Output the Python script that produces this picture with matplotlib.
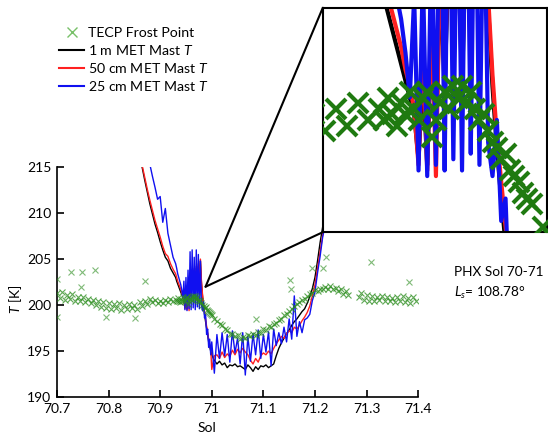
import matplotlib
matplotlib.use("Agg")
import matplotlib.pyplot as plt
from matplotlib.lines import Line2D
from matplotlib.patches import ConnectionPatch
from matplotlib.ticker import FuncFormatter

FONT = "Lato"
plt.rcParams['font.family'] = [FONT, 'DejaVu Sans']
plt.rcParams['mathtext.fontset'] = 'custom'
plt.rcParams['mathtext.rm'] = FONT
plt.rcParams['mathtext.it'] = FONT + ':italic'

# ---------------- data ----------------
met_sol = [70.860, 70.865, 70.870, 70.875, 70.880, 70.885, 70.890, 70.895, 70.900, 70.905,
           70.910, 70.915, 70.920, 70.925,
           70.930, 70.932, 70.934, 70.936, 70.938, 70.940, 70.942, 70.944, 70.946, 70.948,
           70.950, 70.952, 70.954, 70.956, 70.958, 70.960, 70.962, 70.964, 70.966, 70.968,
           70.970, 70.972, 70.974, 70.976, 70.978, 70.980, 70.982, 70.984, 70.986, 70.988,
           70.990, 70.992, 70.994, 70.996, 70.998,
           71.000, 71.005, 71.010, 71.015, 71.020, 71.025, 71.030, 71.035, 71.040, 71.045,
           71.050, 71.055, 71.060, 71.065, 71.070, 71.075, 71.080, 71.085, 71.090, 71.095,
           71.100, 71.105, 71.110, 71.115, 71.120, 71.125, 71.130, 71.135, 71.140, 71.145,
           71.150, 71.155, 71.160, 71.165, 71.170, 71.175, 71.180, 71.185, 71.190, 71.195,
           71.200, 71.205, 71.210, 71.215, 71.220, 71.225, 71.230]

t_1m = [216.5, 215.0, 213.6, 212.3, 211.0, 209.9, 208.8, 207.9, 206.9, 206.0,
        205.2, 204.8, 204.0, 203.5,
        203.0, 202.6, 202.3, 202.0, 201.7, 201.4, 201.1, 200.8, 200.5, 199.7,
        201.2, 199.6, 202.0, 200.0, 203.0, 201.0, 203.5, 202.0, 203.8, 201.0,
        204.0, 202.6, 204.2, 203.0, 204.8, 202.4, 201.0, 199.9, 199.0, 198.2,
        197.5, 196.8, 196.0, 195.5, 195.0,
        194.6, 194.0, 193.6, 193.9, 193.5, 193.7, 193.2, 193.5, 193.4, 193.6,
        193.3, 193.4, 193.2, 193.0, 193.5, 193.2, 192.8, 193.3, 193.0, 193.4,
        193.3, 193.5, 193.2, 193.4, 193.6, 194.5, 195.3, 195.9, 196.4, 196.9,
        197.3, 197.8, 198.2, 198.5, 198.9, 199.3, 199.6, 200.2, 200.9, 201.8,
        203.0, 204.8, 206.8, 208.5, 210.5, 212.5, 214.0]

t_50cm = [216.8, 215.2, 213.9, 212.6, 211.4, 210.3, 209.2, 208.3, 207.4, 206.4,
          205.6, 205.3, 204.5, 203.9,
          203.4, 203.0, 202.6, 202.3, 202.0, 201.7, 201.3, 201.0, 200.6, 199.6,
          201.8, 199.5, 202.4, 199.4, 203.4, 201.2, 203.8, 202.3, 204.0, 201.2,
          204.2, 202.8, 204.5, 203.2, 205.0, 202.6, 201.2, 200.1, 199.3, 198.5,
          197.7, 197.0, 196.3, 195.7, 195.2,
          193.0, 194.5, 194.6, 194.2, 194.9, 194.3, 194.7, 194.4, 195.1, 194.6,
          195.2, 194.8, 195.3, 194.9, 194.6, 194.0, 193.6, 194.2, 193.8, 194.5,
          194.8, 194.6, 195.0, 194.7, 195.3, 195.8, 196.2, 196.6, 196.4, 196.9,
          197.2, 197.0, 197.6, 197.4, 197.8, 198.3, 198.7, 199.2, 199.9, 201.0,
          202.2, 204.0, 205.8, 207.6, 209.6, 211.5, 213.2]

t_25cm = [222.0, 220.0, 218.5, 217.0, 215.3, 214.0, 212.8, 211.5, 211.8, 209.0,
          210.5, 207.8, 206.5, 205.2,
          204.5, 204.0, 203.4, 203.0, 202.6, 202.2, 201.6, 200.8, 202.6, 199.5,
          203.0, 199.4, 203.8, 199.6, 205.8, 199.5, 206.0, 199.7, 205.2, 199.5,
          206.0, 199.8, 205.5, 199.6, 204.8, 200.0, 199.4, 200.4, 198.6, 199.0,
          196.8, 197.4, 195.4, 196.3, 194.6,
          196.0, 192.6, 196.8, 194.2, 197.0, 194.5, 196.8, 193.8, 197.2, 194.8,
          196.4, 193.6, 197.0, 192.4, 196.6, 193.9, 196.9, 194.6, 197.3, 194.2,
          196.8, 194.9, 197.1, 193.4, 197.4, 195.6, 197.0, 195.8, 197.6, 196.0,
          198.5, 196.3, 201.0, 196.6, 198.2, 197.0, 198.4, 198.6, 199.0, 200.5,
          201.4, 203.5, 205.3, 207.4, 208.8, 211.0, 212.8]

frost_sol = [70.700, 70.705, 70.710, 70.715, 70.720, 70.725, 70.730, 70.735, 70.740, 70.745,
             70.750, 70.755, 70.760, 70.765, 70.770, 70.775, 70.780, 70.785, 70.790, 70.795,
             70.800, 70.805, 70.810, 70.815, 70.820, 70.825, 70.830, 70.835, 70.840, 70.845,
             70.850, 70.855, 70.860, 70.865, 70.870, 70.875, 70.880, 70.885, 70.890, 70.895,
             70.900, 70.905, 70.910, 70.915, 70.920, 70.925,
             70.930, 70.932, 70.934, 70.936, 70.938, 70.940, 70.942, 70.944, 70.946, 70.948,
             70.950, 70.952, 70.954, 70.956, 70.958, 70.960, 70.962, 70.964, 70.966, 70.968,
             70.970, 70.972, 70.974, 70.976, 70.978, 70.980, 70.982, 70.984, 70.986, 70.988,
             70.990, 70.992, 70.994, 70.996, 70.998,
             71.000, 71.005, 71.010, 71.015, 71.020, 71.025, 71.030, 71.035, 71.040, 71.045,
             71.050, 71.055, 71.060, 71.065, 71.070, 71.075, 71.080, 71.085, 71.090, 71.095,
             71.100, 71.105, 71.110, 71.115, 71.120, 71.125, 71.130, 71.135, 71.140, 71.145,
             71.150, 71.155, 71.160, 71.165, 71.170, 71.175, 71.180, 71.185, 71.190, 71.195,
             71.200, 71.205, 71.210, 71.215, 71.220, 71.225, 71.230, 71.235, 71.240, 71.245,
             71.250, 71.255, 71.260, 71.265,
             71.285, 71.290, 71.295, 71.300, 71.305, 71.310, 71.315, 71.320, 71.325, 71.330,
             71.335, 71.340, 71.345, 71.350, 71.355, 71.360, 71.365, 71.370, 71.375, 71.380,
             71.385, 71.390, 71.395]

frost_T = [201.3, 200.8, 201.4, 200.6, 201.1, 200.7, 201.2, 200.4, 200.9, 200.5,
           200.9, 200.3, 200.7, 200.2, 200.6, 200.0, 200.4, 199.8, 200.3, 199.7,
           200.2, 199.6, 200.1, 199.7, 200.2, 199.5, 200.0, 199.6, 200.1, 199.7,
           200.0, 199.6, 200.3, 199.9, 200.5, 200.1, 200.7, 200.3, 200.6, 200.2,
           200.5, 200.2, 200.6, 200.3, 200.7, 200.4,
           200.6, 200.4, 200.8, 200.5, 200.3, 200.7, 200.5, 200.9, 200.6, 200.4,
           200.8, 200.9, 200.1, 200.4, 200.7, 200.9, 200.6, 201.0, 200.8, 201.0,
           200.7, 200.9, 200.6, 200.4, 200.5, 200.2, 200.0, 199.9, 199.7, 199.8,
           199.5, 199.4, 199.3, 199.1, 199.0,
           198.9, 198.5, 198.3, 197.9, 197.8, 197.4, 197.3, 196.9, 196.9, 196.6,
           196.7, 196.3, 196.5, 196.4, 196.7, 196.6, 196.9, 196.8, 197.1, 197.0,
           197.4, 197.3, 197.7, 197.6, 198.0, 198.1, 198.4, 198.5, 198.9, 199.0,
           199.4, 199.6, 199.9, 200.1, 200.3, 200.6, 200.7, 201.0, 201.2, 201.3,
           201.6, 201.5, 201.8, 201.7, 202.0, 201.8, 202.1, 201.7, 201.9, 201.5,
           201.7, 201.2, 201.5, 201.1,
           200.9, 201.3, 200.6, 201.1, 200.5, 201.0, 200.4, 200.9, 200.6, 201.0,
           200.5, 200.9, 200.4, 200.8, 200.3, 200.9, 200.4, 201.0, 200.3, 200.8,
           200.2, 200.9, 200.4]

outlier_sol = [70.700, 70.700, 70.728, 70.746, 70.748, 70.773, 70.795, 70.852, 70.871,
               71.085, 71.152, 71.153, 71.194, 71.215, 71.221, 71.308, 71.382]
outlier_T = [202.8, 198.7, 203.6, 202.0, 203.6, 203.8, 198.7, 198.6, 202.6,
             198.5, 202.7, 201.7, 204.0, 204.0, 205.2, 204.7, 202.5]

xticks = [70.7, 70.8, 70.9, 71.0, 71.1, 71.2, 71.3, 71.4]
yticks = [190, 195, 200, 205, 210, 215]
zoom_point = (70.988, 202.0)
inset_xlim = (70.904, 71.007)
inset_ylim = (198.4, 202.4)

# ---------------- styles ----------------
C_BLACK = '#000000'
C_RED = '#ff2020'
C_BLUE = '#1010f0'
C_GREEN = '#2a8c1c'
C_GREEN_DARK = '#1f7a10'
C_GREEN_LEG = '#78c068'

fig = plt.figure(figsize=(5.48, 4.34), dpi=100)
ax = fig.add_axes([0.104, 0.085, 0.659, 0.530])

for y, c in ((t_1m, C_BLACK), (t_50cm, C_RED), (t_25cm, C_BLUE)):
    ax.plot(met_sol, y, color=c, lw=1.0, zorder=2)
ax.plot(frost_sol, frost_T, ls='none', marker='x', ms=4, mew=0.8,
        color=C_GREEN, alpha=0.75, zorder=3)
ax.plot(outlier_sol, outlier_T, ls='none', marker='x', ms=4, mew=0.8,
        color=C_GREEN, alpha=0.6, zorder=3)

ax.set_xlim(70.7, 71.4)
ax.set_ylim(190, 215)
ax.set_xticks(xticks)
ax.set_yticks(yticks)
ax.xaxis.set_major_formatter(FuncFormatter(lambda v, p: f"{v:g}"))
ax.spines['top'].set_visible(False)
ax.spines['right'].set_visible(False)
for s in ('left', 'bottom'):
    ax.spines[s].set_linewidth(1.2)
ax.tick_params(direction='in', length=5, width=1.2, labelsize=10, pad=4)

fig.text(0.028, 0.31, "$T$ [K]", rotation=90, ha='center', va='center', fontsize=10)
fig.text(0.378, 0.014, "Sol", ha='center', va='center', fontsize=10)

# inset
axins = fig.add_axes([0.589, 0.465, 0.409, 0.517])
axins.set_facecolor('white')
for y, c in ((t_1m, C_BLACK), (t_50cm, C_RED), (t_25cm, C_BLUE)):
    axins.plot(met_sol, y, color=c, lw=3.0, zorder=2)
axins.plot(frost_sol, frost_T, ls='none', marker='x', ms=14, mew=3,
           color=C_GREEN_DARK, zorder=3)
axins.set_xlim(*inset_xlim)
axins.set_ylim(*inset_ylim)
axins.set_xticks([])
axins.set_yticks([])
for s in axins.spines.values():
    s.set_linewidth(1.5)

for corner in ((0, 1), (0, 0)):
    con = ConnectionPatch(xyA=zoom_point, coordsA=ax.transData,
                          xyB=corner, coordsB=axins.transAxes,
                          color='black', lw=1.5)
    fig.add_artist(con)

# legend
handles = [Line2D([], [], ls='none', marker='x', ms=7, mew=1.0, color=C_GREEN_LEG),
           Line2D([], [], color=C_BLACK, lw=1.5),
           Line2D([], [], color=C_RED, lw=1.5),
           Line2D([], [], color=C_BLUE, lw=1.5)]
labels = ["TECP Frost Point", "1 m MET Mast $T$", "50 cm MET Mast $T$", "25 cm MET Mast $T$"]
fig.legend(handles, labels, loc='upper left', bbox_to_anchor=(0.108, 0.937),
           frameon=False, fontsize=10.2, handlelength=1.75, handletextpad=0.3,
           labelspacing=0.28, borderpad=0, borderaxespad=0)

fig.text(0.828, 0.373, "PHX Sol 70-71", ha='left', va='center', fontsize=9.8)
fig.text(0.828, 0.325, "$L_s$= 108.78°", ha='left', va='center', fontsize=9.8)

fig.savefig("out.png", dpi=100)
